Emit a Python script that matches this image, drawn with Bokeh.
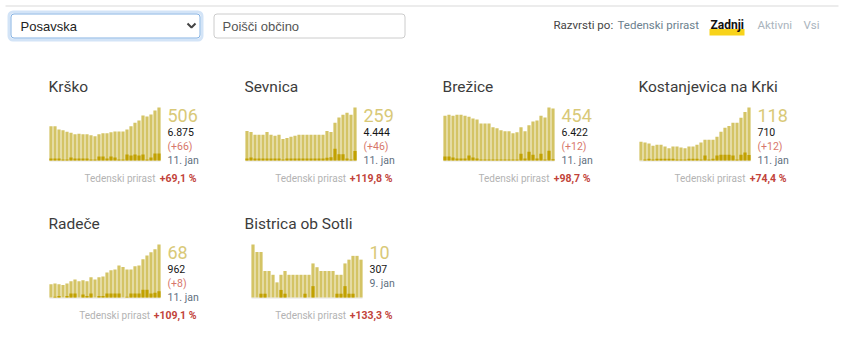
from bokeh.plotting import figure
from bokeh.models import Range1d
from bokeh.embed import file_html
from bokeh.resources import INLINE
from bokeh.core.properties import value

# ---------------- data ----------------
names = ["Krško", "Sevnica", "Brežice", "Kostanjevica na Krki", "Radeče", "Bistrica ob Sotli"]

krsko_active = [326, 326, 297, 288, 275, 266, 250, 256, 250, 250, 240, 231, 250, 259,
                259, 269, 278, 278, 278, 297, 326, 361, 383, 430, 421, 440, 478, 506]
krsko_new = [19, 19, 19, 9, 9, 28, 19, 19, 19, 19, 9, 9, 38, 38,
             19, 38, 28, 9, 9, 57, 47, 57, 47, 57, 9, 28, 66, 66]

sevnica_active = [144, 139, 126, 126, 126, 139, 126, 121, 126, 105, 110, 116, 121, 126,
                  126, 126, 126, 126, 126, 126, 144, 139, 184, 210, 223, 233, 223, 259]
sevnica_new = [10, 15, 10, 10, 10, 10, 10, 10, 10, 5, 10, 10, 10, 10,
               10, 10, 10, 10, 10, 10, 13, 16, 57, 30, 30, 10, 5, 46]

brezice_active = [392, 400, 392, 400, 400, 392, 383, 366, 358, 324, 324, 324, 290, 281,
                  264, 256, 256, 239, 247, 290, 256, 307, 341, 349, 392, 375, 463, 454]
brezice_new = [34, 34, 26, 17, 17, 17, 43, 26, 17, 9, 9, 9, 9, 9,
               9, 9, 9, 9, 9, 60, 17, 77, 51, 17, 60, 9, 85, 12]

kostanjevica_active = [42, 40, 38, 33, 35, 35, 31, 27, 31, 31, 29, 27, 31, 31,
                       35, 40, 46, 46, 46, 53, 64, 73, 77, 84, 84, 95, 108, 118]
kostanjevica_new = [0, 2, 4, 2, 4, 4, 4, 4, 4, 2, 2, 2, 4, 4,
                    4, 2, 11, 2, 4, 11, 13, 13, 13, 11, 2, 13, 18, 12]

radece_active = [17, 18, 17, 16, 18, 21, 23, 21, 22, 21, 26, 23, 26, 27,
                 32, 35, 36, 41, 39, 36, 36, 40, 41, 49, 54, 58, 62, 68]
radece_new = [0, 1, 2, 0, 2, 5, 5, 0, 4, 2, 5, 0, 2, 2,
              5, 5, 5, 5, 0, 1, 5, 5, 5, 10, 10, 5, 6, 8]

bistrica_active = [14, 12, 12, 7, 7, 6, 4, 6, 7, 6, 6, 6, 6, 6,
                   6, 9, 8, 7, 7, 7, 7, 6, 6, 9, 10, 11, 11, 10]
bistrica_new = [0, 0, 1, 1, 0, 0, 0, 2, 1, 0, 0, 0, 0, 1,
                0, 3, 0, 0, 0, 0, 0, 1, 1, 3, 1, 1, 0, 0]

active_series = [krsko_active, sevnica_active, brezice_active,
                 kostanjevica_active, radece_active, bistrica_active]
new_series = [krsko_new, sevnica_new, brezice_new,
              kostanjevica_new, radece_new, bistrica_new]
totals = ["6.875", "4.444", "6.422", "710", "962", "307"]
new_labels = ["(+66)", "(+46)", "(+12)", "(+12)", "(+8)", ""]
dates = ["11. jan", "11. jan", "11. jan", "11. jan", "11. jan", "9. jan"]
growth = ["+69,1 %", "+119,8 %", "+98,7 %", "+74,4 %", "+109,1 %", "+133,3 %"]

sort_options = ["Tedenski prirast", "Zadnji", "Aktivni", "Vsi"]

# ---------------- styles ----------------
FONT = "Roboto"
UIFONT = "Liberation Sans"
LIGHT = "#d4c465"
DARK = "#c1a100"
W, H = 846, 340

p = figure(width=W, height=H, x_range=Range1d(0, W), y_range=Range1d(H, 0),
           output_backend="svg", toolbar_location=None, min_border=0,
           x_axis_location=None, y_axis_location=None,
           outline_line_color=None, background_fill_color="white",
           border_fill_color="white")
p.grid.visible = False

# ---------------- header ----------------
p.segment(x0=[5], y0=[5.5], x1=[838], y1=[5.5], line_color="#e6e6e6", line_width=1.5)
p.quad(left=[8.5], right=[201.5], top=[11.5], bottom=[39.5], border_radius=4,
       fill_color=None, line_color="#d3e4f7", line_width=3)
p.quad(left=[10.5], right=[199.5], top=[13.5], bottom=[37.5], border_radius=3,
       fill_color="white", line_color="#86b3e3", line_width=1)
p.line(x=[187, 191, 195], y=[23, 27, 23], line_color="#444444", line_width=2)
p.quad(left=[213.5], right=[404.5], top=[13.5], bottom=[37.5], border_radius=3,
       fill_color="white", line_color="#cccccc", line_width=1)
p.text(x=[20], y=[26], text=["Posavska"], text_font=value(UIFONT), text_font_size="13px",
       text_color="#222222", text_baseline="middle")
p.text(x=[222], y=[26], text=["Poišči občino"], text_font=value(UIFONT), text_font_size="13px",
       text_color="#555555", text_baseline="middle")
p.quad(left=[709], right=[744], top=[28.5], bottom=[35], fill_color="#f8d31a", line_color=None)
p.text(x=[553], y=[24], text=["Razvrsti po:"], text_font=value(FONT), text_font_size="11.5px",
       text_color="#444444", text_baseline="middle")
p.text(x=[617, 757, 803], y=[24, 24, 24], text=[sort_options[0], sort_options[2], sort_options[3]],
       text_font=value(FONT), text_font_size="11.5px",
       text_color=["#6b7f8e", "#aab4bd", "#aab4bd"], text_baseline="middle")
p.text(x=[710], y=[24], text=[sort_options[1]], text_font=value(FONT), text_font_size="12px",
       text_font_style="bold", text_color="#111111", text_baseline="middle")

# ---------------- panels ----------------
col_x = [48, 244, 442, 638, 48, 244]
bar_off = [1, 1, 1, 1, 1, 7]
row_base = [160, 160, 160, 160, 297, 297]
CH = 53  # chart height in px
PITCH = 4

for i, name in enumerate(names):
    vals = active_series[i]
    nv = new_series[i]
    n = len(vals)
    cx, base = col_x[i], row_base[i]
    bl = cx + bar_off[i]
    # baseline rule
    p.segment(x0=[bl], y0=[base + 0.5], x1=[bl + n * PITCH - 1], y1=[base + 0.5],
              line_color="#e3e3e3", line_width=1)
    sub = p.subplot(x_source=Range1d(-0.5, n - 0.5), y_source=Range1d(0, max(vals)),
                    x_target=Range1d(bl - 0.5, bl - 0.5 + n * PITCH),
                    y_target=Range1d(base, base - CH))
    xs = list(range(n))
    sub.vbar(x=xs, top=vals, bottom=0, width=0.8, fill_color=LIGHT, line_color=None)
    sub.vbar(x=xs, top=nv, bottom=0, width=0.8, fill_color=DARK, line_color=None)

    tx = bl + n * PITCH + 6
    p.text(x=[cx], y=[base - 74], text=[name], text_font=value(FONT), text_font_size="15.5px",
           text_color="#3c3c3c", text_baseline="alphabetic")
    p.text(x=[tx], y=[base - 45], text=[str(vals[-1])], text_font=value(FONT),
           text_font_size="18px", text_font_style="normal", text_color="#d9c978",
           text_baseline="alphabetic")
    lines = [(totals[i], "#151515")]
    if new_labels[i]:
        lines.append((new_labels[i], "#d7776b"))
    lines.append((dates[i], "#5f6f80"))
    for k, (t, c) in enumerate(lines):
        p.text(x=[tx], y=[base - 29 + 14.5 * k], text=[t], text_font=value(FONT),
               text_font_size="10.5px", text_color=c, text_baseline="alphabetic")
    right = cx + 148
    gw = len(growth[i]) * 5.3
    p.text(x=[right], y=[base + 18], text=[growth[i]], text_font=value(FONT),
           text_font_size="10.5px", text_font_style="bold", text_color="#c2433a",
           text_align="right", text_baseline="alphabetic")
    p.text(x=[right - gw - 4], y=[base + 18], text=["Tedenski prirast"], text_font=value(FONT),
           text_font_size="10px", text_color="#b3b3b3", text_align="right",
           text_baseline="alphabetic")

open("out.html", "w").write(file_html(p, INLINE))
